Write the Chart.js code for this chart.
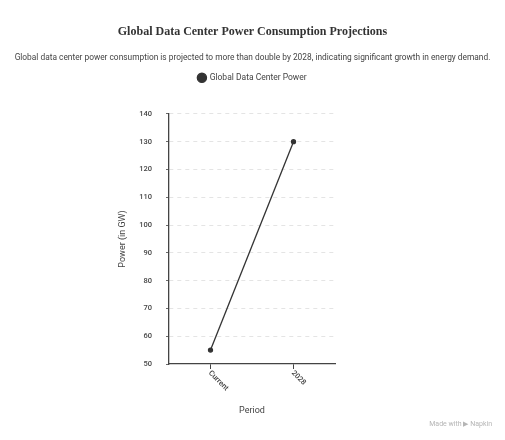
<!DOCTYPE html>
<html>
<head>
<meta charset="utf-8">
<script src="https://cdn.jsdelivr.net/npm/chart.js@4.4.1/dist/chart.umd.min.js"></script>
<style>
  html, body { margin: 0; padding: 0; background: #fff; }
  #wrap { width: 505px; height: 440px; position: relative; }
</style>
</head>
<body>
<div id="wrap"><canvas id="myChart"></canvas></div>
<script>
const periods = ['Current', '2028'];
const power = [55, 130];
const yTicks = [50, 60, 70, 80, 90, 100, 110, 120, 130, 140];

const ctx = document.getElementById('myChart').getContext('2d');

// legend needs more room below it
const legendGap = {
  id: 'legendGap',
  beforeInit(chart) {
    const fit = chart.legend.fit;
    chart.legend.fit = function () {
      fit.bind(chart.legend)();
      this.height += 22;
    };
  },
};

// x labels go down to the right, starting at the tick
const slantLabels = {
  id: 'slantLabels',
  afterDraw(chart) {
    const x = chart.scales.x;
    const c = chart.ctx;
    c.save();
    c.font = '500 7.5px Roboto';
    c.fillStyle = '#444';
    c.textAlign = 'left';
    c.textBaseline = 'middle';
    periods.forEach((p, i) => {
      c.save();
      c.translate(x.getPixelForTick(i) - 1, x.top + 8);
      c.rotate(Math.PI / 4);
      c.fillText(p, 0, 0);
      c.restore();
    });
    c.font = '7px Roboto';
    c.fillStyle = '#b5b5b5';
    c.textAlign = 'right';
    c.fillText('Made with \u25B6 Napkin', chart.width - 13, chart.height - 16);
    c.restore();
  },
};

new Chart(ctx, {
  type: 'line',
  data: {
    labels: periods,
    datasets: [
      {
        label: 'Global Data Center Power',
        data: power,
        borderColor: '#333',
        backgroundColor: '#333',
        borderWidth: 1.3,
        pointRadius: 2,
        pointHoverRadius: 2,
        tension: 0,
      },
    ],
  },
  options: {
    responsive: true,
    maintainAspectRatio: false,
    animation: false,
    layout: {
      padding: { left: 0, right: 0, bottom: 20 },
    },
    plugins: {
      title: {
        display: true,
        text: 'Global Data Center Power Consumption Projections',
        font: { family: 'Liberation Serif', size: 12, weight: 'bold' },
        color: '#333',
        padding: { top: 25, bottom: 13 },
      },
      subtitle: {
        display: true,
        text: 'Global data center power consumption is projected to more than double by 2028, indicating significant growth in energy demand.',
        font: { family: 'Roboto', size: 8.35 },
        color: '#444',
        padding: { top: 0, bottom: 5 },
      },
      legend: {
        display: true,
        labels: {
          usePointStyle: true,
          pointStyle: 'circle',
          boxWidth: 7,
          boxHeight: 6.5,
          color: '#444',
          font: { family: 'Roboto', size: 8.5 },
          padding: 6,
        },
      },
      tooltip: { enabled: false },
    },
    scales: {
      x: {
        offset: true,
        grid: { drawOnChartArea: false, tickLength: 5, tickColor: '#444' },
        border: { color: '#444', width: 1.3 },
        ticks: {
          color: 'transparent',
          font: { family: 'Roboto', size: 7.5 },
          minRotation: 45,
          maxRotation: 45,
        },
        title: {
          display: true,
          text: 'Period',
          font: { family: 'Roboto', size: 9 },
          color: '#444',
        },
        afterFit(scale) {
          scale.height = 56;
        },
      },
      y: {
        min: 50,
        max: 140,
        afterBuildTicks(scale) {
          scale.ticks = yTicks.map((v) => ({ value: v }));
        },
        grid: {
          color: (c) => (c.tick && c.tick.value === 50 ? 'transparent' : '#ddd'),
          tickColor: '#444',
          tickLength: 3,
          lineWidth: 0.8,
        },
        border: { color: '#444', width: 1.3, dash: [4, 4] },
        ticks: {
          color: '#444',
          font: { family: 'Roboto', size: 7.5, weight: '500' },
          padding: 14,
        },
        title: {
          display: true,
          text: 'Power (in GW)',
          font: { family: 'Roboto', size: 9 },
          color: '#444',
          padding: { top: 117, bottom: 0 },
        },
        afterFit(scale) {
          scale.width = 169;
        },
      },
      // empty scale on the right, keeps the plot narrow like the original
      yRight: {
        position: 'right',
        display: true,
        grid: { display: false },
        border: { display: false },
        ticks: { display: false },
        afterFit(scale) {
          scale.width = 170;
        },
      },
    },
  },
  plugins: [legendGap, slantLabels],
});
</script>
</body>
</html>
